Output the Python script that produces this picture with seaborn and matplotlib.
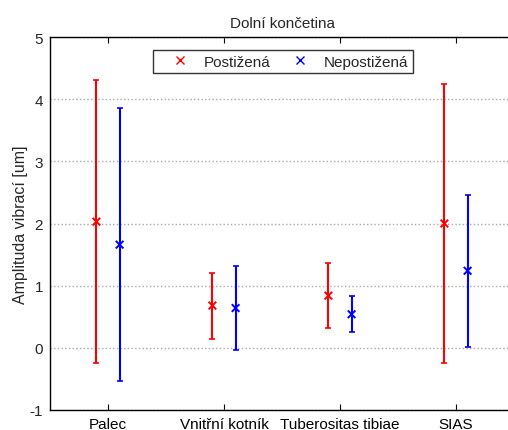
import matplotlib
matplotlib.use("Agg")
import matplotlib.pyplot as plt
import seaborn as sns
import numpy as np
import pandas as pd

categories = ["Palec", "Vnitřní kotník", "Tuberositas tibiae", "SIAS"]
series_names = ["Postižená", "Nepostižená"]
post_mean = [2.03, 0.68, 0.84, 2.00]
post_err = [2.28, 0.53, 0.52, 2.24]
nepost_mean = [1.66, 0.64, 0.54, 1.24]
nepost_err = [2.20, 0.68, 0.29, 1.22]
yticks = [-1, 0, 1, 2, 3, 4, 5]

sns.set_style("white")
plt.rcParams["font.family"] = ["Liberation Sans", "DejaVu Sans"]
plt.rcParams["font.size"] = 11
plt.rcParams["axes.unicode_minus"] = False

fig = plt.figure(figsize=(5.08, 4.31), dpi=100)
ax = fig.add_axes([50 / 508, 20 / 431, 464 / 508, 373 / 431])

idx = np.arange(1, len(categories) + 1)
colors = ["#ff0000", "#0000ff"]
offsets = [-0.1, 0.1]
rows = []
for name, means, errs, off in zip(series_names, [post_mean, nepost_mean], [post_err, nepost_err], offsets):
    for i, (m, e) in enumerate(zip(means, errs)):
        rows.append({"series": name, "x": idx[i] + off, "mean": m, "err": e})
df = pd.DataFrame(rows)

for name, col in zip(series_names, colors):
    sub = df[df["series"] == name]
    ax.errorbar(sub["x"], sub["mean"], yerr=sub["err"], fmt="none", ecolor=col,
                elinewidth=1.5, capsize=2.5, capthick=1.2, zorder=3)

sns.scatterplot(data=df, x="x", y="mean", hue="series", palette=colors, marker="x",
                s=30, linewidth=1.4, ax=ax, zorder=4, legend=False)

handles = [plt.Line2D([], [], color=c, marker="x", linestyle="none", markersize=6, markeredgewidth=1)
           for c in colors]
leg = ax.legend(handles, series_names, loc="upper center", bbox_to_anchor=(0.502, 0.985), ncol=2,
                frameon=True, fancybox=False, edgecolor="black", fontsize=11,
                handlelength=2.93, handletextpad=0.1, columnspacing=0.43, borderpad=0.3)
leg.get_frame().set_linewidth(1.0)

ax.set_xlim(0.5, 4.5)
ax.set_ylim(-1, 5)
ax.set_xticks(idx)
ax.set_xticklabels(categories)
ax.set_yticks(yticks)
ax.set_xlabel("")
ax.set_ylabel("Amplituda vibrací [um]", fontsize=11.5, labelpad=1)
ax.set_title("Dolní končetina", fontsize=11, pad=7)
ax.yaxis.grid(True, color="#aaaaaa", linestyle=":", linewidth=1.0)
ax.xaxis.grid(False)
ax.set_axisbelow(True)
for s in ax.spines.values():
    s.set_color("black")
    s.set_linewidth(1.0)
ax.tick_params(axis="x", direction="in", length=4, top=True, bottom=True, colors="black", labelsize=11, pad=5)
ax.tick_params(axis="y", direction="in", length=0, left=True, labelsize=11, pad=5)

fig.savefig("out.png", dpi=100)
